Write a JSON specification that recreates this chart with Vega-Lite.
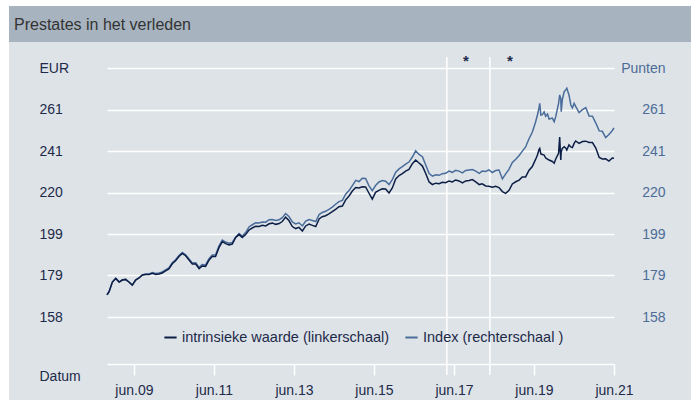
{
"$schema": "https://vega.github.io/schema/vega-lite/v6.json",
"background": "white",
"padding": {"left": 9, "top": 6, "right": 0, "bottom": 0},
"spacing": 0,
"config": {"font": "Liberation Sans", "view": {"stroke": null}, "axis": {"labelFont": "Liberation Sans", "titleFont": "Liberation Sans"}, "legend": {"labelFont": "Liberation Sans"}},
"datasets": {"reeks": [
{"date":"2008-10-27","intrinsiek":169.2,"index":169.2},
{"date":"2008-11-15","intrinsiek":170.8,"index":170.8},
{"date":"2008-12-15","intrinsiek":175.6,"index":175.6},
{"date":"2009-01-15","intrinsiek":177.4,"index":177.4},
{"date":"2009-02-15","intrinsiek":175.6,"index":175.6},
{"date":"2009-03-15","intrinsiek":176.6,"index":176.6},
{"date":"2009-04-15","intrinsiek":176.9,"index":176.9},
{"date":"2009-05-15","intrinsiek":175.6,"index":175.6},
{"date":"2009-06-15","intrinsiek":174.1,"index":174.1},
{"date":"2009-07-15","intrinsiek":176.6,"index":176.6},
{"date":"2009-08-15","intrinsiek":177.6,"index":177.6},
{"date":"2009-09-15","intrinsiek":179.1,"index":179.1},
{"date":"2009-10-15","intrinsiek":179.4,"index":179.6},
{"date":"2009-11-15","intrinsiek":179.3,"index":179.6},
{"date":"2009-12-15","intrinsiek":180.0,"index":180.3},
{"date":"2010-01-15","intrinsiek":179.4,"index":179.9},
{"date":"2010-02-15","intrinsiek":179.6,"index":180.1},
{"date":"2010-03-15","intrinsiek":180.1,"index":180.6},
{"date":"2010-04-15","intrinsiek":181.1,"index":181.6},
{"date":"2010-05-15","intrinsiek":182.1,"index":182.6},
{"date":"2010-06-15","intrinsiek":184.7,"index":185.2},
{"date":"2010-07-15","intrinsiek":186.2,"index":186.7},
{"date":"2010-08-15","intrinsiek":188.3,"index":188.8},
{"date":"2010-09-15","intrinsiek":189.8,"index":190.3},
{"date":"2010-10-15","intrinsiek":188.7,"index":189.2},
{"date":"2010-11-15","intrinsiek":186.6,"index":187.1},
{"date":"2010-12-15","intrinsiek":184.6,"index":185.1},
{"date":"2011-01-15","intrinsiek":184.6,"index":185.2},
{"date":"2011-02-15","intrinsiek":182.3,"index":182.9},
{"date":"2011-03-15","intrinsiek":183.6,"index":184.3},
{"date":"2011-04-15","intrinsiek":183.4,"index":184.1},
{"date":"2011-05-15","intrinsiek":186.4,"index":187.1},
{"date":"2011-06-15","intrinsiek":188.3,"index":189.1},
{"date":"2011-07-15","intrinsiek":188.3,"index":189.1},
{"date":"2011-08-15","intrinsiek":192.7,"index":193.5},
{"date":"2011-09-15","intrinsiek":195.7,"index":196.5},
{"date":"2011-10-15","intrinsiek":194.7,"index":195.5},
{"date":"2011-11-15","intrinsiek":194.1,"index":194.9},
{"date":"2011-12-15","intrinsiek":194.5,"index":195.3},
{"date":"2012-01-15","intrinsiek":197.8,"index":198.0},
{"date":"2012-02-15","intrinsiek":199.2,"index":199.7},
{"date":"2012-03-15","intrinsiek":197.8,"index":198.5},
{"date":"2012-04-15","intrinsiek":199.2,"index":200.2},
{"date":"2012-05-15","intrinsiek":201.5,"index":203.0},
{"date":"2012-06-15","intrinsiek":202.5,"index":204.1},
{"date":"2012-07-15","intrinsiek":203.4,"index":205.1},
{"date":"2012-08-15","intrinsiek":203.2,"index":205.0},
{"date":"2012-09-15","intrinsiek":203.8,"index":205.5},
{"date":"2012-10-15","intrinsiek":203.5,"index":205.4},
{"date":"2012-11-15","intrinsiek":204.6,"index":206.6},
{"date":"2012-12-15","intrinsiek":204.9,"index":206.7},
{"date":"2013-01-15","intrinsiek":204.3,"index":206.2},
{"date":"2013-02-15","intrinsiek":204.7,"index":206.6},
{"date":"2013-03-15","intrinsiek":205.7,"index":207.6},
{"date":"2013-04-15","intrinsiek":207.9,"index":209.7},
{"date":"2013-05-15","intrinsiek":206.2,"index":208.2},
{"date":"2013-06-15","intrinsiek":203.2,"index":205.5},
{"date":"2013-07-15","intrinsiek":202.2,"index":204.5},
{"date":"2013-08-15","intrinsiek":202.8,"index":205.1},
{"date":"2013-09-15","intrinsiek":201.0,"index":203.5},
{"date":"2013-10-15","intrinsiek":203.5,"index":205.9},
{"date":"2013-11-15","intrinsiek":204.4,"index":206.7},
{"date":"2013-12-15","intrinsiek":203.8,"index":206.2},
{"date":"2014-01-15","intrinsiek":203.2,"index":205.7},
{"date":"2014-02-15","intrinsiek":207.0,"index":209.2},
{"date":"2014-03-15","intrinsiek":208.1,"index":210.2},
{"date":"2014-04-15","intrinsiek":208.6,"index":210.8},
{"date":"2014-05-15","intrinsiek":209.5,"index":211.7},
{"date":"2014-06-15","intrinsiek":210.6,"index":212.9},
{"date":"2014-07-15","intrinsiek":211.8,"index":214.3},
{"date":"2014-08-15","intrinsiek":213.1,"index":215.6},
{"date":"2014-09-15","intrinsiek":213.4,"index":216.2},
{"date":"2014-10-15","intrinsiek":216.5,"index":219.3},
{"date":"2014-11-15","intrinsiek":218.4,"index":221.1},
{"date":"2014-12-15","intrinsiek":220.9,"index":223.6},
{"date":"2015-01-15","intrinsiek":222.6,"index":226.2},
{"date":"2015-02-15","intrinsiek":222.4,"index":225.6},
{"date":"2015-03-15","intrinsiek":223.0,"index":227.2},
{"date":"2015-04-15","intrinsiek":222.9,"index":227.1},
{"date":"2015-05-15","intrinsiek":219.9,"index":223.6},
{"date":"2015-06-15","intrinsiek":216.9,"index":221.1},
{"date":"2015-07-15","intrinsiek":220.2,"index":223.6},
{"date":"2015-08-15","intrinsiek":221.2,"index":225.4},
{"date":"2015-09-15","intrinsiek":222.0,"index":226.1},
{"date":"2015-10-15","intrinsiek":221.9,"index":225.8},
{"date":"2015-11-15","intrinsiek":219.9,"index":224.1},
{"date":"2015-12-15","intrinsiek":222.4,"index":226.6},
{"date":"2016-01-15","intrinsiek":226.9,"index":230.2},
{"date":"2016-02-15","intrinsiek":228.6,"index":231.9},
{"date":"2016-03-15","intrinsiek":229.5,"index":233.0},
{"date":"2016-04-15","intrinsiek":230.8,"index":234.3},
{"date":"2016-05-15","intrinsiek":231.6,"index":235.3},
{"date":"2016-06-15","intrinsiek":234.5,"index":237.8},
{"date":"2016-07-15","intrinsiek":236.3,"index":240.9},
{"date":"2016-08-15","intrinsiek":234.8,"index":239.1},
{"date":"2016-09-15","intrinsiek":233.3,"index":238.0},
{"date":"2016-10-15","intrinsiek":229.6,"index":233.8},
{"date":"2016-11-15","intrinsiek":225.4,"index":229.6},
{"date":"2016-12-15","intrinsiek":224.1,"index":228.3},
{"date":"2017-01-15","intrinsiek":224.8,"index":229.0},
{"date":"2017-02-15","intrinsiek":224.5,"index":228.7},
{"date":"2017-03-15","intrinsiek":225.2,"index":229.5},
{"date":"2017-04-15","intrinsiek":225.0,"index":229.7},
{"date":"2017-05-15","intrinsiek":225.9,"index":230.8},
{"date":"2017-06-15","intrinsiek":225.4,"index":230.2},
{"date":"2017-07-15","intrinsiek":226.4,"index":231.2},
{"date":"2017-08-15","intrinsiek":225.9,"index":230.8},
{"date":"2017-09-15","intrinsiek":224.9,"index":229.9},
{"date":"2017-10-15","intrinsiek":225.9,"index":231.1},
{"date":"2017-11-15","intrinsiek":226.1,"index":231.4},
{"date":"2017-12-15","intrinsiek":226.6,"index":231.6},
{"date":"2018-01-15","intrinsiek":225.4,"index":230.8},
{"date":"2018-02-15","intrinsiek":224.1,"index":229.7},
{"date":"2018-03-15","intrinsiek":224.5,"index":230.8},
{"date":"2018-04-15","intrinsiek":223.4,"index":230.6},
{"date":"2018-05-15","intrinsiek":223.3,"index":231.4},
{"date":"2018-06-15","intrinsiek":222.8,"index":230.1},
{"date":"2018-07-15","intrinsiek":223.2,"index":231.1},
{"date":"2018-08-15","intrinsiek":222.6,"index":231.3},
{"date":"2018-09-15","intrinsiek":220.6,"index":226.9},
{"date":"2018-10-15","intrinsiek":219.7,"index":229.4},
{"date":"2018-11-15","intrinsiek":221.2,"index":231.8},
{"date":"2018-12-15","intrinsiek":224.4,"index":235.1},
{"date":"2019-01-15","intrinsiek":225.5,"index":236.7},
{"date":"2019-02-15","intrinsiek":226.3,"index":238.6},
{"date":"2019-03-15","intrinsiek":227.9,"index":240.6},
{"date":"2019-04-15","intrinsiek":227.9,"index":242.8},
{"date":"2019-05-15","intrinsiek":231.1,"index":246.8},
{"date":"2019-06-15","intrinsiek":233.1,"index":250.1},
{"date":"2019-07-15","intrinsiek":236.6,"index":255.2},
{"date":"2019-08-01","intrinsiek":238.8,"index":258.7},
{"date":"2019-08-15","intrinsiek":241.5,"index":262.2},
{"date":"2019-08-22","intrinsiek":242.1,"index":264.5},
{"date":"2019-09-01","intrinsiek":239.3,"index":258.7},
{"date":"2019-09-15","intrinsiek":239.1,"index":258.9},
{"date":"2019-10-01","intrinsiek":238.8,"index":260.2},
{"date":"2019-10-15","intrinsiek":237.3,"index":258.1},
{"date":"2019-11-01","intrinsiek":236.8,"index":259.2},
{"date":"2019-11-15","intrinsiek":236.3,"index":256.7},
{"date":"2019-12-15","intrinsiek":235.6,"index":257.2},
{"date":"2020-01-01","intrinsiek":234.7,"index":255.4},
{"date":"2020-01-15","intrinsiek":236.8,"index":257.9},
{"date":"2020-02-10","intrinsiek":239.7,"index":264.5},
{"date":"2020-02-20","intrinsiek":247.8,"index":268.7},
{"date":"2020-03-01","intrinsiek":236.3,"index":267.0},
{"date":"2020-03-05","intrinsiek":240.3,"index":260.4},
{"date":"2020-03-15","intrinsiek":242.1,"index":266.2},
{"date":"2020-04-01","intrinsiek":242.9,"index":270.3},
{"date":"2020-04-15","intrinsiek":242.3,"index":271.2},
{"date":"2020-04-25","intrinsiek":241.3,"index":272.0},
{"date":"2020-05-15","intrinsiek":243.8,"index":268.7},
{"date":"2020-06-01","intrinsiek":242.8,"index":263.7},
{"date":"2020-06-15","intrinsiek":242.5,"index":262.2},
{"date":"2020-07-01","intrinsiek":244.6,"index":264.5},
{"date":"2020-07-15","intrinsiek":245.8,"index":263.0},
{"date":"2020-08-15","intrinsiek":244.6,"index":259.9},
{"date":"2020-09-15","intrinsiek":245.5,"index":261.4},
{"date":"2020-10-15","intrinsiek":245.7,"index":262.4},
{"date":"2020-11-15","intrinsiek":245.0,"index":258.2},
{"date":"2020-12-15","intrinsiek":245.0,"index":258.1},
{"date":"2021-01-15","intrinsiek":242.3,"index":254.7},
{"date":"2021-02-15","intrinsiek":237.6,"index":250.8},
{"date":"2021-03-15","intrinsiek":236.8,"index":250.6},
{"date":"2021-04-15","intrinsiek":236.9,"index":247.5},
{"date":"2021-05-15","intrinsiek":235.8,"index":249.0},
{"date":"2021-06-15","intrinsiek":237.3,"index":251.0},
{"date":"2021-06-30","intrinsiek":237.2,"index":252.3}
]},
"vconcat": [
{
"width": 682, "height": 36,
"view": {"fill": "#a7b4c0", "stroke": null},
"title": {"text": "Prestates in het verleden", "anchor": "start", "frame": "group", "offset": -27, "dx": 5, "fontSize": 16, "fontWeight": "normal", "color": "#333333", "font": "Liberation Sans"},
"data": {"values": [{}]},
"mark": {"type": "text", "text": ""}
},
{
"width": 682, "height": 358,
"view": {"fill": "#dde3e7", "stroke": null},
"data": {"name": "reeks"},
"encoding": {
"x": {"field": "date", "type": "temporal",
"scale": {"domain": [{"year": 2008, "month": 10, "date": 27}, {"year": 2021, "month": 6, "date": 30}], "range": [98, 605]},
"axis": {"orient": "bottom", "offset": -36, "grid": false, "domain": true, "domainColor": "white", "domainWidth": 1.5, "ticks": true, "tickColor": "white", "tickWidth": 1.5, "tickSize": 11, "labelPadding": 8, "labelFontSize": 14, "labelColor": "#1e2a4a", "labelFlush": false, "labelOverlap": false,
"values": [{"year": 2009, "month": 6, "date": 30}, {"year": 2011, "month": 6, "date": 30}, {"year": 2013, "month": 6, "date": 30}, {"year": 2015, "month": 6, "date": 30}, {"year": 2017, "month": 6, "date": 30}, {"year": 2019, "month": 6, "date": 30}, {"year": 2021, "month": 6, "date": 30}],
"labelExpr": "'jun.' + timeFormat(datum.value, '%y')",
"title": "Datum", "titleX": 30, "titleY": 12, "titleAlign": "left", "titleAnchor": null, "titleBaseline": "middle", "titleFontSize": 14, "titleFontWeight": "normal", "titleColor": "#1e2a4a", "titleAngle": 0}}
},
"layer": [
{
"layer": [
{"data": {"values": [{"date": "2017-04-26"}, {"date": "2018-05-24"}]},
"mark": {"type": "rule", "color": "white", "strokeWidth": 1.5},
"encoding": {"y": {"datum": 287.6, "type": "quantitative", "scale": {"domain": [158.2, 282.1], "range": [275, 26], "zero": false, "nice": false}, "axis": null}, "y2": {"datum": 129.3}}},
{"data": {"values": [{"date": "2017-10-17"}, {"date": "2018-11-23"}]},
"mark": {"type": "text", "text": "*", "fontSize": 15, "fontWeight": "bold", "color": "#1e2a4a", "baseline": "middle"},
"encoding": {"y": {"datum": 285.6, "type": "quantitative", "axis": null}}}
]
},
{
"mark": {"type": "line", "strokeWidth": 1.5},
"encoding": {
"y": {"field": "index", "type": "quantitative", "scale": {"domain": [158.2, 282.1], "range": [275, 26], "zero": false, "nice": false},
"axis": {"orient": "right", "offset": -26, "grid": false, "domain": false, "ticks": false, "labelPadding": 0, "labelAlign": "right", "labelFontSize": 14, "labelColor": "#4d6c97", "title": null, "labelFlush": false, "labelOverlap": false,
"values": [158.2, 178.9, 199.4, 220.1, 240.8, 261.4, 282.1],
"labelExpr": "datum.value > 270 ? 'Punten' : format(datum.value, '.0f')"}},
"color": {"datum": "Index (rechterschaal )", "type": "nominal", "scale": {"domain": ["intrinsieke waarde (linkerschaal)", "Index (rechterschaal )"], "range": ["#0d1e46", "#4a6c9b"]}}
}
},
{
"mark": {"type": "line", "strokeWidth": 1.5},
"encoding": {
"y": {"field": "intrinsiek", "type": "quantitative", "scale": {"domain": [158.2, 282.1], "range": [275, 26], "zero": false, "nice": false},
"axis": {"orient": "left", "offset": -30, "grid": true, "gridColor": "white", "gridWidth": 1.5, "gridOpacity": 1, "domain": false, "ticks": false, "labelPadding": 0, "labelAlign": "left", "labelFontSize": 14, "labelColor": "#1e2a4a", "title": null, "labelFlush": false, "labelOverlap": false,
"values": [158.2, 178.9, 199.4, 220.1, 240.8, 261.4, 282.1],
"labelExpr": "datum.value > 270 ? 'EUR' : format(datum.value, '.0f')"}},
"color": {"datum": "intrinsieke waarde (linkerschaal)", "type": "nominal", "scale": {"domain": ["intrinsieke waarde (linkerschaal)", "Index (rechterschaal )"], "range": ["#0d1e46", "#4a6c9b"]},
"legend": {"orient": "none", "legendX": 154, "legendY": 324, "direction": "horizontal", "title": null, "symbolType": "stroke", "symbolStrokeWidth": 2, "symbolSize": 150, "labelFontSize": 14.5, "labelColor": "#1e2a4a", "labelOffset": 4, "labelLimit": 400, "columnPadding": 11, "padding": 0}}
}
}
],
"resolve": {"scale": {"y": "independent"}}
}
]
}
